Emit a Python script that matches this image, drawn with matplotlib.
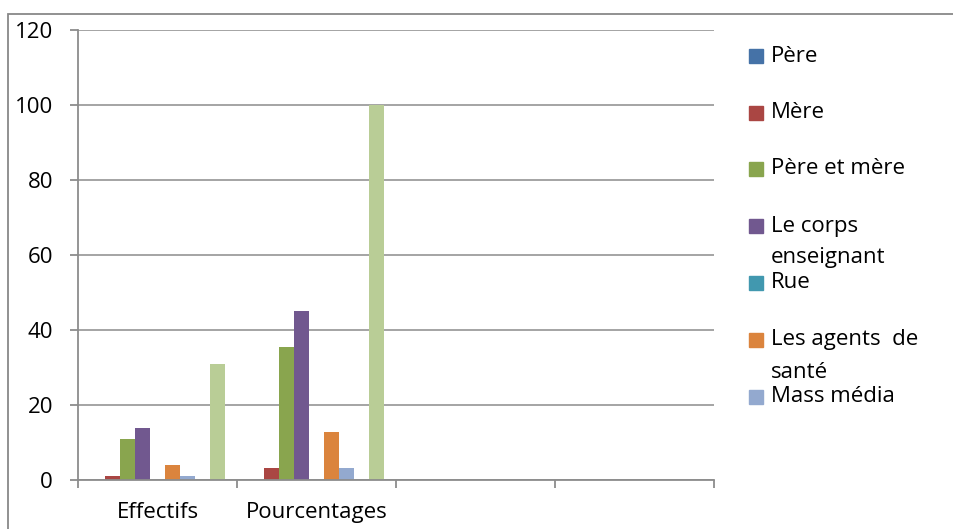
import numpy as np
import matplotlib.pyplot as plt
from matplotlib.patches import Rectangle

plt.rcParams['font.family'] = ['Open Sans', 'DejaVu Sans']

categories = ["Effectifs", "Pourcentages", "", ""]

pere = [0, 0, 0, 0]
mere = [1, 3.2, 0, 0]
pere_et_mere = [11, 35.5, 0, 0]
corps_enseignant = [14, 45.2, 0, 0]
rue = [0, 0, 0, 0]
agents_sante = [4, 12.9, 0, 0]
mass_media = [1, 3.2, 0, 0]
series_8 = [0, 0, 0, 0]
total = [31, 100, 0, 0]

legend_labels = ["Père", "Mère", "Père et mère", "Le corps\nenseignant", "Rue",
                 "Les agents  de\nsanté", "Mass média"]

series = [pere, mere, pere_et_mere, corps_enseignant, rue,
          agents_sante, mass_media, series_8, total]
colors = ["#4572A7", "#AA4643", "#89A54E", "#71588F", "#4198AF",
          "#DB843D", "#93A9CF", "#D19392", "#B9CD96"]

W, H = 954, 529
fig = plt.figure(figsize=(W / 100, H / 100), dpi=100)
ax = fig.add_axes([78 / W, 1 - 480 / H, (714 - 78) / W, (480 - 30) / H])

x = np.arange(len(categories))
n = len(series)
bw = 0.094
for i, (vals, c) in enumerate(zip(series, colors)):
    ax.bar(x + (i - (n - 1) / 2) * bw, vals, bw, color=c, zorder=3)

grid_c = "#8c8c8c"
fs = 16
ax.set_xlim(-0.5, len(categories) - 0.5)
ax.set_ylim(0, 120)
ax.set_yticks(np.arange(0, 121, 20))
ax.yaxis.grid(True, color=grid_c, lw=1.1)
ax.set_axisbelow(True)
for s in ["top", "right"]:
    ax.spines[s].set_visible(False)
for s in ["left", "bottom"]:
    ax.spines[s].set_color(grid_c)
    ax.spines[s].set_linewidth(1.3)
    ax.spines[s].set_zorder(4)

ax.set_xticks(np.arange(-0.5, len(categories)), labels=[])
ax.set_xticks(x, labels=categories, minor=True)
ax.tick_params(axis="x", which="major", length=6, width=1.3, color=grid_c)
ax.tick_params(axis="x", which="minor", length=0, pad=16, labelsize=fs)
ax.tick_params(axis="y", length=6, width=1.3, color=grid_c, pad=12, labelsize=fs)

# legend drawn item by item with even spacing
ys = [56, 113, 169, 226, 283, 340, 397]
for lab, c, yy in zip(legend_labels, colors, ys):
    fig.add_artist(Rectangle((749 / W, 1 - (yy + 7) / H), 14 / W, 14 / H,
                             transform=fig.transFigure, color=c))
    for k, line in enumerate(lab.split("\n")):
        fig.text(771 / W, 1 - (yy + 32 * k) / H, line, fontsize=fs,
                 va="center", ha="left")

# chart area border
fig.add_artist(Rectangle((8 / W, -0.05), 1.2, 1.05 - 14 / H,
                         transform=fig.transFigure, fill=False,
                         edgecolor="#888888", lw=1.3))

fig.savefig("out.png", dpi=100)
